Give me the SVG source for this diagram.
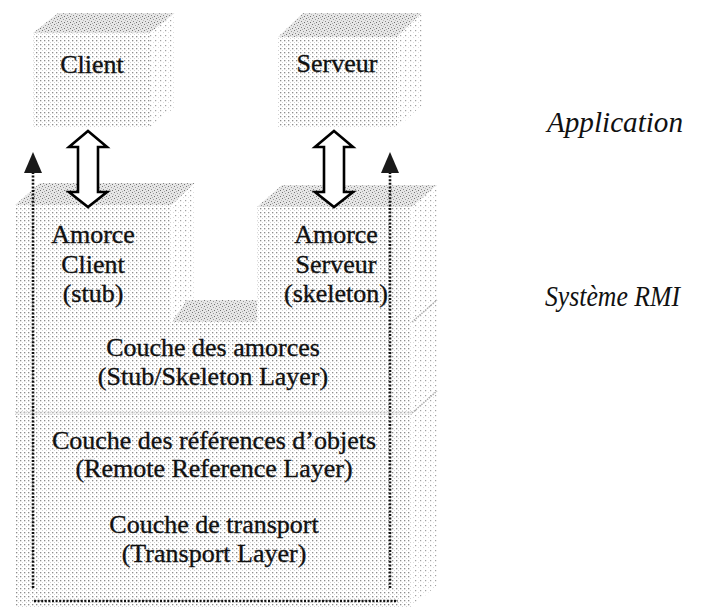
<svg xmlns="http://www.w3.org/2000/svg" width="703" height="610" viewBox="0 0 703 610">
  <defs>
    <!-- sparse dot grid for front faces -->
    <pattern id="dotFront" width="4" height="4" patternUnits="userSpaceOnUse">
      <rect width="4" height="4" fill="#ffffff"/>
      <rect x="0" y="0" width="1.3" height="1.3" fill="#8c8c8c"/>
      <rect x="2" y="2" width="1" height="1" fill="#d2d2d2"/>
    </pattern>
    <!-- lighter dots for side faces -->
    <pattern id="dotSide" width="5" height="5" patternUnits="userSpaceOnUse">
      <rect width="5" height="5" fill="#ffffff"/>
      <rect x="0" y="0" width="1.2" height="1.2" fill="#a0a0a0"/>
      <rect x="3" y="2" width="1" height="1" fill="#dddddd"/>
    </pattern>
    <!-- denser stipple for top faces -->
    <pattern id="dotTop" width="6" height="6" patternUnits="userSpaceOnUse">
      <rect width="6" height="6" fill="#e6e6e6"/>
      <rect x="0" y="0" width="1" height="1" fill="#777"/>
      <rect x="3" y="1" width="1" height="1" fill="#999"/>
      <rect x="1" y="3" width="1" height="1" fill="#888"/>
      <rect x="4" y="4" width="1" height="1" fill="#6f6f6f"/>
      <rect x="2" y="5" width="1" height="1" fill="#aaa"/>
      <rect x="5" y="2" width="1" height="1" fill="#bbb"/>
    </pattern>
    <pattern id="dotLine" width="3" height="3" patternUnits="userSpaceOnUse">
      <rect width="3" height="3" fill="#e6e6e6"/>
      <rect x="0" y="0" width="1" height="1" fill="#a0a0a0"/>
      <rect x="2" y="1" width="1" height="1" fill="#b0b0b0"/>
    </pattern>
    <style>
      .front { fill: url(#dotFront); }
      .side { fill: url(#dotSide); }
      .top { fill: url(#dotTop); }
      .txt { font-family: "Liberation Serif", "Times New Roman", serif; font-size: 26px; fill: #111; stroke: #111; stroke-width: 0.35; text-anchor: middle; }
      .side-label { font-family: "Liberation Serif", "Times New Roman", serif; font-size: 29px; font-style: italic; fill: #111; }
      .dual { fill: #ffffff; stroke: #000; stroke-width: 2.6; stroke-linejoin: miter; }
      .dots { fill: none; stroke: #111; stroke-width: 2.6; stroke-dasharray: 2 1.6; }
      .head { fill: #1a1a1a; }
      .seam { fill: url(#dotLine); }
    </style>
  </defs>

  <rect width="703" height="610" fill="#ffffff"/>

  <!-- application layer boxes -->
  <g id="client">
    <polygon class="top" points="33,33 58,13 175,13 150,33"/>
    <polygon class="side" points="150,33 175,13 175,107 150,127"/>
    <rect class="front" x="33" y="33" width="117" height="94"/>
    <text class="txt" x="92" y="73">Client</text>
  </g>

  <g id="serveur">
    <polygon class="top" points="278,37 303,13 422,13 397,37"/>
    <polygon class="side" points="397,37 422,13 422,105 397,128"/>
    <rect class="front" x="278" y="37" width="119" height="91"/>
    <text class="txt" x="337" y="72">Serveur</text>
  </g>

  <!-- RMI system block: stub / skeleton columns over the shared layers -->
  <g id="rmi-block">
    <polygon class="front" points="15,205 172,205 172,322 257,322 257,207 412,207 412,607 15,607"/>
    <polygon class="top" points="15,205 40,183 195,183 172,205"/>
    <polygon class="side" points="172,205 195,183 195,300 172,322"/>
    <polygon class="top" points="172,322 187,300 257,300 257,322"/>
    <polygon class="top" points="257,207 282,185 437,185 412,207"/>
    <polygon class="side" points="412,207 437,185 437,585 412,607"/>
    <!-- layer seams -->
    <polygon class="seam" points="15,411 412,411 412,415 15,415" opacity="0.5"/>
    <line x1="412" y1="322" x2="437" y2="300" stroke="#b0b0b0" stroke-width="1.5" stroke-dasharray="1.5 1"/>
    <line x1="412" y1="413" x2="437" y2="391" stroke="#b0b0b0" stroke-width="1.5" stroke-dasharray="1.5 1"/>
  </g>

  <g id="amorce-client">
    <text class="txt" x="93" y="243">Amorce</text>
    <text class="txt" x="93" y="273">Client</text>
    <text class="txt" x="93" y="302">(stub)</text>
  </g>

  <g id="amorce-serveur">
    <text class="txt" x="336" y="243">Amorce</text>
    <text class="txt" x="336" y="273">Serveur</text>
    <text class="txt" x="336" y="302">(skeleton)</text>
  </g>

  <g id="couche-amorces">
    <text class="txt" x="213" y="356">Couche des amorces</text>
    <text class="txt" x="213" y="385">(Stub/Skeleton Layer)</text>
  </g>

  <g id="couche-references">
    <text class="txt" x="214" y="449">Couche des références d’objets</text>
    <text class="txt" x="214" y="477">(Remote Reference Layer)</text>
  </g>

  <g id="couche-transport">
    <text class="txt" x="214" y="533">Couche de transport</text>
    <text class="txt" x="214" y="562">(Transport Layer)</text>
  </g>

  <!-- connectors -->
  <g id="connectors">
    <path class="dual" d="M88,131 L107,147 L98,147 L98,192 L107,192 L88,207 L69,192 L78,192 L78,147 L69,147 Z"/>
    <path class="dual" d="M334,131 L353,147 L344,147 L344,192 L353,192 L334,207 L315,192 L324,192 L324,147 L315,147 Z"/>
    <line class="dots" x1="33" y1="172" x2="33" y2="588"/>
    <line class="dots" x1="390" y1="172" x2="390" y2="588"/>
    <line class="dots" x1="34" y1="601" x2="398" y2="601"/>
    <polygon class="head" points="33,152 24,173 42,173"/>
    <polygon class="head" points="390,152 381,173 399,173"/>
  </g>

  <!-- tier labels -->
  <g id="labels">
    <text class="side-label" x="547" y="132" textLength="136" lengthAdjust="spacingAndGlyphs">Application</text>
    <text class="side-label" x="545" y="306" textLength="135" lengthAdjust="spacingAndGlyphs">Système RMI</text>
  </g>
</svg>
